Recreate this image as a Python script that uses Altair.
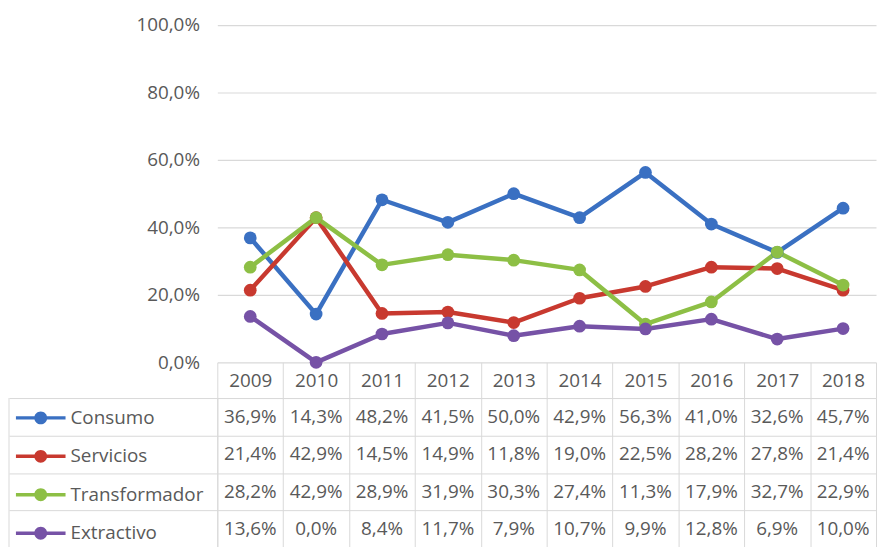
import altair as alt
import pandas as pd

years = ["2009", "2010", "2011", "2012", "2013", "2014", "2015", "2016", "2017", "2018"]
series = ["Consumo", "Servicios", "Transformador", "Extractivo"]
consumo = [36.9, 14.3, 48.2, 41.5, 50.0, 42.9, 56.3, 41.0, 32.6, 45.7]
servicios = [21.4, 42.9, 14.5, 14.9, 11.8, 19.0, 22.5, 28.2, 27.8, 21.4]
transformador = [28.2, 42.9, 28.9, 31.9, 30.3, 27.4, 11.3, 17.9, 32.7, 22.9]
extractivo = [13.6, 0.0, 8.4, 11.7, 7.9, 10.7, 9.9, 12.8, 6.9, 10.0]
y_ticks = [0, 20, 40, 60, 80, 100]
colors = ["#3A70C2", "#C8392F", "#8DBF45", "#7652A6"]

rows = []
for name, vals in zip(series, [consumo, servicios, transformador, extractivo]):
    for yr, v in zip(years, vals):
        rows.append({"year": yr, "series": name, "value": v,
                     "label": f"{v:.1f}%".replace(".", ",")})
df = pd.DataFrame(rows)

FONT = "Open Sans"
TXT = "#595959"
GRID = "#d9d9d9"
W = 664
H_PLOT = 340
ROW_H = 37.75
H_TABLE = 4 * ROW_H

x_scale = alt.Scale(type="band", domain=years, paddingInner=0, paddingOuter=0)
color_scale = alt.Scale(domain=series, range=colors)

SYMBOL = ("M-1,-0.07L1,-0.07L1,0.07L-1,0.07Z "
          "M0.26,0A0.26,0.26 0 1,1 -0.26,0A0.26,0.26 0 1,1 0.26,0Z")

legend = alt.Legend(
    orient="none", legendX=-203, legendY=371, direction="vertical", title=None,
    symbolType=SYMBOL, symbolSize=2500, symbolStrokeWidth=0, symbolOpacity=1,
    labelFont=FONT, labelFontSize=19, labelColor=TXT, labelOffset=5,
    rowPadding=3.75, padding=0,
)

y_enc = alt.Y("value:Q", scale=alt.Scale(domain=[0, 100]),
              axis=alt.Axis(values=y_ticks, title=None, domain=False, ticks=False,
                            grid=True, gridColor=GRID, gridWidth=1.2,
                            labelExpr="replace(format(datum.value, '.1f'), '.', ',') + '%'",
                            labelFont=FONT, labelFontSize=19, labelColor=TXT, labelPadding=18))
x_enc = alt.X("year:N", scale=x_scale, axis=None)
c_enc = alt.Color("series:N", scale=color_scale, legend=legend)

lines = alt.Chart(df).mark_line(strokeWidth=4.5, strokeCap="round", strokeJoin="round").encode(
    x=x_enc, y=y_enc, color=c_enc)
points = alt.Chart(df).mark_point(filled=True, size=165, opacity=1).encode(
    x=x_enc, y=y_enc, color=c_enc)
top = (lines + points).properties(width=W, height=H_PLOT)

tbase = alt.Chart(df).encode(
    x=alt.X("year:N", scale=x_scale,
            axis=alt.Axis(orient="top", title=None, labelAngle=0, labelFont=FONT,
                          labelFontSize=19, labelColor=TXT, labelPadding=-18,
                          labelBaseline="middle", ticks=True, tickSize=36,
                          tickColor=GRID, tickBand="extent", grid=True,
                          gridColor=GRID, domainColor=GRID)),
    y=alt.Y("series:N", scale=alt.Scale(type="band", domain=series, paddingInner=0, paddingOuter=0),
            axis=alt.Axis(title=None, labels=False, ticks=True, tickSize=210,
                          tickColor=GRID, tickBand="extent", grid=True,
                          gridColor=GRID, domainColor=GRID)),
)
text = tbase.mark_text(font=FONT, fontSize=19, color=TXT).encode(text="label:N")
border = alt.Chart(pd.DataFrame({"k": [0]})).mark_rule(color=GRID).encode(
    x=alt.value(-210), y=alt.value(0), y2=alt.value(H_TABLE))
table = (text + border).properties(width=W, height=H_TABLE)

chart = alt.vconcat(top, table, spacing=36, bounds="flush").properties(
    padding={"left": 0, "top": 6, "right": 0, "bottom": 0}
).configure_view(strokeWidth=0)

chart.save("out.html", embed_options={"renderer": "svg", "actions": False})
